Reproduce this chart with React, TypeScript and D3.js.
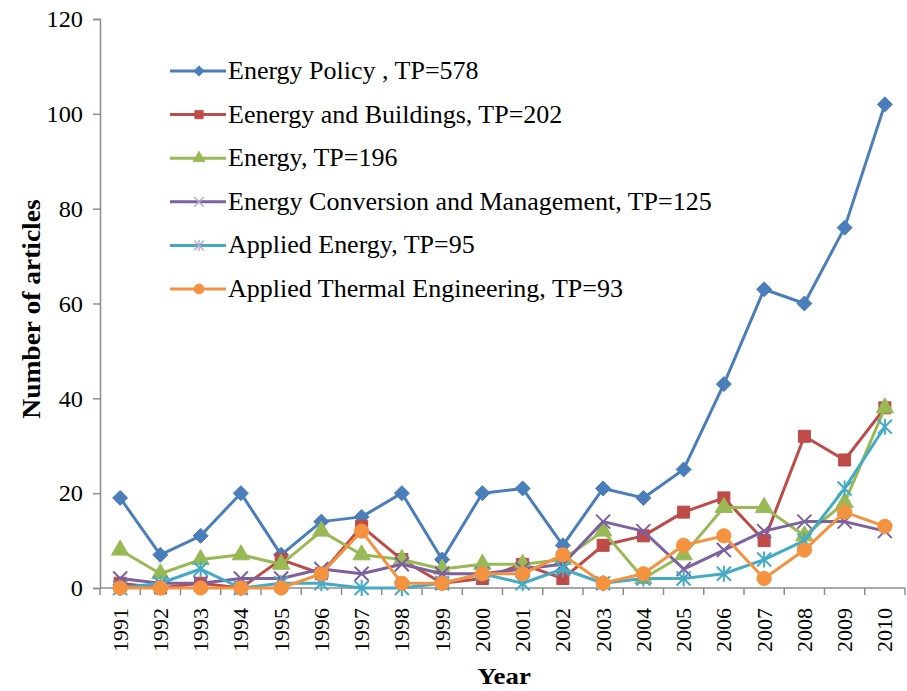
import React, { useEffect, useRef } from 'react';
import * as d3 from 'd3';

const years = ['1991', '1992', '1993', '1994', '1995', '1996', '1997', '1998', '1999', '2000',
  '2001', '2002', '2003', '2004', '2005', '2006', '2007', '2008', '2009', '2010'];

const energyPolicy = [19, 7, 11, 20, 7, 14, 15, 20, 6, 20, 21, 9, 21, 19, 25, 43, 63, 60, 76, 102];
const energyBuildings = [1, 0, 1, 0, 6, 3, 13, 6, 1, 2, 5, 2, 9, 11, 16, 19, 10, 32, 27, 38];
const energy = [8, 3, 6, 7, 5, 12, 7, 6, 4, 5, 5, 6, 12, 2, 7, 17, 17, 11, 18, 38];
const energyConversion = [2, 1, 1, 2, 2, 4, 3, 5, 3, 3, 4, 5, 14, 12, 4, 8, 12, 14, 14, 12];
const appliedEnergy = [0, 1, 4, 0, 1, 1, 0, 0, 1, 3, 1, 4, 1, 2, 2, 3, 6, 10, 21, 34];
const appliedThermal = [0, 0, 0, 0, 0, 3, 12, 1, 1, 3, 3, 7, 1, 3, 9, 11, 2, 8, 16, 13];

const yTicks = [0, 20, 40, 60, 80, 100, 120];

const seriesNames = [
  'Energy Policy , TP=578',
  'Eenergy and Buildings, TP=202',
  'Energy, TP=196',
  'Energy Conversion and Management, TP=125',
  'Applied Energy, TP=95',
  'Applied Thermal Engineering, TP=93',
];
const seriesValues = [energyPolicy, energyBuildings, energy, energyConversion, appliedEnergy, appliedThermal];
const seriesColors = ['#4a7ebb', '#be4b48', '#98b954', '#7d60a0', '#46aac5', '#f59240'];
const seriesMarkers = ['diamond', 'square', 'triangle', 'x', 'star', 'circle'];

const W = 907;
const H = 691;

function markerPath(kind: string): string {
  const r = 7;
  switch (kind) {
    case 'diamond': return `M0,${-7.5}L7.5,0L0,7.5L${-7.5},0Z`;
    case 'square': return `M-6,-6H6V6H-6Z`;
    case 'triangle': return d3.symbol(d3.symbolTriangle, 130)() || '';
    case 'circle': return d3.symbol(d3.symbolCircle, 160)() || '';
    case 'x': return `M${-r},${-r}L${r},${r}M${-r},${r}L${r},${-r}`;
    case 'star': return `M${-r},${-r}L${r},${r}M${-r},${r}L${r},${-r}M0,${-r - 1}L0,${r + 1}`;
    default: return '';
  }
}

export default function App() {
  const svgRef = useRef<SVGSVGElement>(null);

  useEffect(() => {
    if (!svgRef.current) return;
    const svg = d3.select(svgRef.current);
    svg.selectAll('*').remove();

    const left = 100, right = 905, top = 19, bottom = 588;

    const x = d3.scaleBand<string>().domain(years).range([left, right]);
    const y = d3.scaleLinear().domain([0, 120]).range([bottom, top]);
    const cx = (d: string) => (x(d) || 0) + x.bandwidth() / 2;

    const font = '"Liberation Serif", "Times New Roman", serif';
    const axisColor = '#8c8c8c';

    // y axis
    const yAxis = svg.append('g').attr('transform', `translate(${left},0)`)
      .call(d3.axisLeft(y).tickValues(yTicks).tickSize(7).tickPadding(10));
    yAxis.select('.domain').attr('stroke', axisColor).attr('stroke-width', 1.5);
    yAxis.selectAll('.tick line').attr('stroke', axisColor).attr('stroke-width', 1.5);
    yAxis.selectAll('.tick text')
      .attr('x', 0).attr('dy', '0.34em')
      .attr('transform', 'translate(-17,0) scale(1.06,1)')
      .attr('font-family', font).attr('font-size', 23).attr('fill', '#000');

    // x axis
    const xAxisG = svg.append('g');
    xAxisG.append('line').attr('x1', left).attr('x2', right).attr('y1', bottom).attr('y2', bottom)
      .attr('stroke', axisColor).attr('stroke-width', 1.5);
    const bounds = years.map(d => x(d) || 0).concat([right]);
    xAxisG.selectAll('line.tk').data(bounds).enter().append('line').attr('class', 'tk')
      .attr('x1', d => d).attr('x2', d => d).attr('y1', bottom).attr('y2', bottom + 7)
      .attr('stroke', axisColor).attr('stroke-width', 1.5);
    xAxisG.selectAll('text').data(years).enter().append('text')
      .attr('transform', d => `translate(${cx(d) + 7.5},${bottom + 20}) rotate(-90)`)
      .attr('text-anchor', 'end')
      .attr('font-family', font).attr('font-size', 22).attr('fill', '#000')
      .text(d => d);

    // axis titles
    svg.append('text').attr('transform', 'translate(504,684) scale(1.12,1)').attr('text-anchor', 'middle')
      .attr('font-family', font).attr('font-size', 24).attr('font-weight', 'bold').text('Year');
    svg.append('text').attr('transform', 'translate(40,309) rotate(-90) scale(1.1,1)').attr('text-anchor', 'middle')
      .attr('font-family', font).attr('font-size', 25).attr('font-weight', 'bold').text('Number of articles');

    // series
    seriesValues.forEach((vals, si) => {
      const g = svg.append('g');
      const color = seriesColors[si];
      const line = d3.line<number>().x((_, i) => cx(years[i])).y(d => y(d));
      g.append('path').datum(vals).attr('d', line).attr('fill', 'none')
        .attr('stroke', color).attr('stroke-width', 3).attr('stroke-linejoin', 'round');
      const kind = seriesMarkers[si];
      const stroked = kind === 'x' || kind === 'star';
      g.selectAll('path.m').data(vals).enter().append('path').attr('class', 'm')
        .attr('transform', (d, i) => `translate(${cx(years[i])},${y(d)})`)
        .attr('d', markerPath(kind))
        .attr('fill', stroked ? 'none' : color)
        .attr('stroke', color).attr('stroke-width', stroked ? 2 : 1);
    });

    // legend
    const lg = svg.append('g');
    seriesNames.forEach((name, si) => {
      const ly = 71 + si * 43.6;
      const color = seriesColors[si];
      const kind = seriesMarkers[si];
      const stroked = kind === 'x' || kind === 'star';
      lg.append('line').attr('x1', 170).attr('x2', 226).attr('y1', ly).attr('y2', ly)
        .attr('stroke', color).attr('stroke-width', 3);
      lg.append('path').attr('transform', `translate(199,${ly}) scale(0.7)`).attr('d', markerPath(kind))
        .attr('fill', stroked ? 'none' : color).attr('stroke', stroked ? '#b9a9cf' : color)
        .attr('stroke-width', stroked ? 2 : 1);
      lg.append('text').attr('transform', `translate(228,${ly + 8}) scale(1.04,1)`)
        .attr('font-family', font).attr('font-size', 25)
        .attr('fill', '#000').text(name);
    });
  }, []);

  return (
    <svg ref={svgRef} width={W} height={H}
      style={{ position: 'absolute', left: 0, top: 0, background: '#fff' }} />
  );
}
